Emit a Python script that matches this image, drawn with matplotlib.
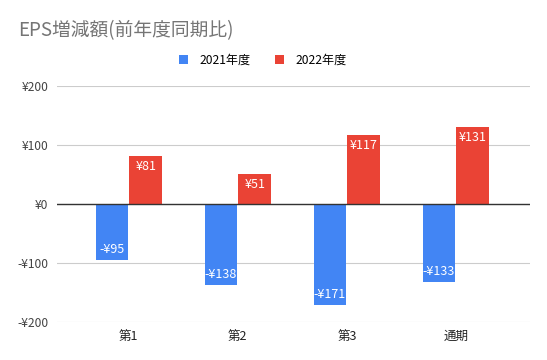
import numpy as np
import matplotlib
matplotlib.use('Agg')
import matplotlib.pyplot as plt

plt.rcParams['font.family'] = ['Noto Sans CJK JP', 'DejaVu Sans']

categories = ['第1', '第2', '第3', '通期']
series_names = ['2021年度', '2022年度']
eps_2021 = [-95, -138, -171, -133]
eps_2022 = [81, 51, 117, 131]
yticks = [-200, -100, 0, 100, 200]

colors = ['#4285F4', '#EA4335']


def yen(v):
    return ('-' if v < 0 else '') + '¥' + str(abs(v))


fig = plt.figure(figsize=(5.47, 3.6), dpi=100)
ax = fig.add_axes([0.104, 0.1056, 0.865, 0.6556])

x = np.arange(len(categories))
w = 0.30
gap = 0.01
for i, (vals, col) in enumerate(zip([eps_2021, eps_2022], colors)):
    pos = x + (i - 0.5) * (w + gap)
    ax.bar(pos, vals, width=w, color=col, label=series_names[i], zorder=3)
    for px, v in zip(pos, vals):
        off = -3 if v > 0 else 3
        ax.annotate(yen(v), (px, v), xytext=(0, off), textcoords='offset points',
                    ha='center', va='top' if v > 0 else 'bottom',
                    color='white', fontsize=9, zorder=4)

ax.set_ylim(-200, 200)
ax.set_xlim(-0.66, 3.68)
ax.set_yticks(yticks)
ax.set_yticklabels([yen(t) for t in yticks], color='#444444', fontsize=8.7)
ax.set_xticks(x)
ax.set_xticklabels(categories, color='#222222', fontsize=9)
ax.tick_params(length=0, pad=6)
ax.grid(axis='y', color='#cccccc', linewidth=0.8, zorder=0)
ax.axhline(0, color='#333333', linewidth=1, zorder=5)
for s in ax.spines.values():
    s.set_visible(False)

fig.text(0.033, 0.915, 'EPS増減額(前年度同期比)', fontsize=13.5, color='#757575',
         va='center', ha='left')
fig.legend(loc='center', bbox_to_anchor=(0.48, 0.833), ncol=2, frameon=False,
           fontsize=8.7, handlelength=0.8, handleheight=0.8, columnspacing=2.0,
           handletextpad=0.9)

fig.savefig('out.png', dpi=100)
